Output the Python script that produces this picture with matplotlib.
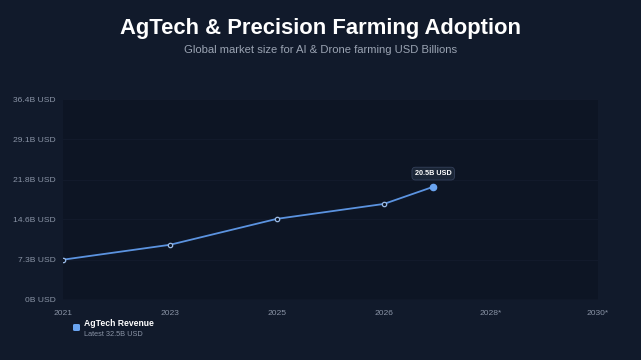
import numpy as np
import matplotlib.pyplot as plt
from matplotlib.patches import FancyBboxPatch

plt.rcParams['font.family'] = ['Liberation Sans', 'DejaVu Sans']

# data
years = ['2021', '2023', '2025', '2026', '2028*', '2030*']
x_pos = [0, 1, 2, 3, 3.46]
revenue = [7.3, 10.0, 14.7, 17.4, 20.5]
y_ticks = [0, 7.3, 14.6, 21.8, 29.1, 36.4]
y_labels = ['0B USD', '7.3B USD', '14.6B USD', '21.8B USD', '29.1B USD', '36.4B USD']

bg = '#111a2b'
panel = '#0d1524'
line_c = '#5b93e0'
tick_c = '#8a94a6'

fig = plt.figure(figsize=(6.41, 3.6), dpi=100, facecolor=bg)
ax = fig.add_axes([63 / 641, 60 / 360, 535 / 641, 201 / 360])
ax.set_facecolor(panel)

ax.set_xlim(0, 5)
ax.set_ylim(0, 36.4)

for t in y_ticks[1:]:
    ax.axhline(t, color='#131c2d', lw=0.6, zorder=0)
ax.axhline(0, color='#283245', lw=0.9, zorder=1)

ax.plot(x_pos, revenue, color=line_c, lw=1.3, zorder=3)
ax.scatter(x_pos[:-1], revenue[:-1], s=10, facecolor=panel, edgecolor='#9bbbe6',
           linewidth=0.9, zorder=4)
ax.scatter(x_pos[-1:], revenue[-1:], s=20, color='#6aa4f0', zorder=5)

ax.annotate('20.5B USD', (x_pos[-1], revenue[-1]), xytext=(0, 9.5),
            textcoords='offset points', ha='center', va='center',
            fontsize=5.2, fontweight='bold', color='white',
            bbox=dict(boxstyle='round,pad=0.4,rounding_size=0.5',
                      fc='#1b2637', ec='#34405a', lw=0.6), zorder=6)

ax.set_xticks(range(len(years)))
ax.set_xticklabels(years)
ax.set_yticks(y_ticks)
ax.set_yticklabels(y_labels)
ax.tick_params(length=0, colors=tick_c, labelsize=6.1)
ax.tick_params(axis='x', pad=7)
ax.tick_params(axis='y', pad=5)
for s in ax.spines.values():
    s.set_visible(False)

fig.text(0.5, 0.922, 'AgTech & Precision Farming Adoption', ha='center', va='center',
         fontsize=15.8, fontweight='bold', color='white')
fig.text(0.5, 0.862, 'Global market size for AI & Drone farming USD Billions',
         ha='center', va='center', fontsize=8.1, color='#9aa3b2')

# legend
fig.patches.append(FancyBboxPatch((73 / 641, 1 - 331 / 360), 7 / 641, 7 / 360,
                                  boxstyle='round,pad=0,rounding_size=0.003',
                                  transform=fig.transFigure, fc='#6aa4f0', ec='none'))
fig.text(84 / 641, 1 - 324 / 360, 'AgTech Revenue', ha='left', va='center',
         fontsize=6.2, fontweight='bold', color='white')
fig.text(84 / 641, 1 - 334 / 360, 'Latest 32.5B USD', ha='left', va='center',
         fontsize=5.3, color='#8a94a6')

fig.savefig('out.png', dpi=100, facecolor=bg)
